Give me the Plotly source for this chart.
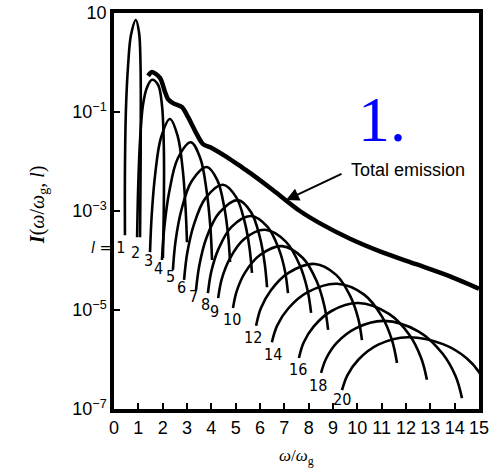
import plotly.graph_objects as go

# ---- data: x = omega/omega_g, values given as log10(I) ----
l1_x = [0.45, 0.45, 0.49, 0.58, 0.70, 0.90, 1.03, 1.09, 1.10, 1.09, 1.07]
l1_I = [10**v for v in (-3.49, -2.17, -0.96, -0.05, 0.56, 0.86, 0.60, -0.05, -1.16, -2.37, -3.53)]
l2_x = [0.95, 0.99, 1.07, 1.19, 1.36, 1.56, 1.81, 1.97, 2.05, 2.05, 2.01]
l2_I = [10**v for v in (-3.53, -2.58, -1.57, -0.86, -0.50, -0.35, -0.45, -0.86, -1.77, -2.78, -3.95)]
l3_x = [1.48, 1.55, 1.69, 1.93, 2.30, 2.62, 2.83, 2.94, 3.00]
l3_I = [10**v for v in (-3.83, -3.08, -2.27, -1.52, -1.14, -1.49, -2.19, -2.93, -3.63)]
l4_x = [1.97, 2.07, 2.27, 2.62, 3.16, 3.55, 3.81, 3.96, 4.03]
l4_I = [10**v for v in (-3.99, -3.32, -2.61, -1.94, -1.61, -1.94, -2.61, -3.32, -3.99)]
l5_x = [2.42, 2.53, 2.77, 3.19, 3.82, 4.25, 4.53, 4.69, 4.77]
l5_I = [10**v for v in (-4.19, -3.61, -2.98, -2.40, -2.11, -2.38, -2.92, -3.49, -4.03)]
l6_x = [2.88, 3.01, 3.28, 3.76, 4.48, 5.02, 5.37, 5.57, 5.67]
l6_I = [10**v for v in (-4.39, -3.85, -3.28, -2.74, -2.47, -2.72, -3.22, -3.75, -4.25)]
l7_x = [3.37, 3.51, 3.80, 4.32, 5.10, 5.64, 5.99, 6.19, 6.29]
l7_I = [10**v for v in (-4.60, -4.09, -3.54, -3.04, -2.78, -3.03, -3.52, -4.05, -4.54)]
l8_x = [3.86, 4.00, 4.30, 4.83, 5.63, 6.31, 6.77, 7.03, 7.15]
l8_I = [10**v for v in (-4.66, -4.22, -3.76, -3.32, -3.10, -3.32, -3.76, -4.22, -4.66)]
l9_x = [4.28, 4.43, 4.76, 5.34, 6.21, 7.06, 7.63, 7.95, 8.10]
l9_I = [10**v for v in (-4.76, -4.37, -3.96, -3.57, -3.38, -3.62, -4.09, -4.59, -5.06)]
l10_x = [4.89, 5.05, 5.39, 6.00, 6.90, 7.76, 8.33, 8.65, 8.80]
l10_I = [10**v for v in (-4.96, -4.61, -4.24, -3.89, -3.71, -3.95, -4.42, -4.93, -5.40)]
l12_x = [5.84, 6.03, 6.45, 7.17, 8.26, 9.13, 9.71, 10.04, 10.19]
l12_I = [10**v for v in (-5.32, -4.97, -4.60, -4.25, -4.07, -4.29, -4.72, -5.18, -5.61)]
l14_x = [6.49, 6.70, 7.16, 7.96, 9.17, 10.28, 11.02, 11.43, 11.63]
l14_I = [10**v for v in (-5.65, -5.32, -4.97, -4.64, -4.47, -4.69, -5.14, -5.62, -6.07)]
l16_x = [7.60, 7.79, 8.21, 8.94, 10.03, 11.30, 12.15, 12.63, 12.86]
l16_I = [10**v for v in (-5.97, -5.66, -5.33, -5.02, -4.86, -5.08, -5.51, -5.98, -6.41)]
l18_x = [8.51, 8.72, 9.16, 9.93, 11.10, 12.54, 13.50, 14.04, 14.30]
l18_I = [10**v for v in (-6.27, -5.98, -5.66, -5.37, -5.22, -5.44, -5.88, -6.34, -6.78)]
l20_x = [9.37, 9.59, 10.05, 10.86, 12.08, 13.52, 14.48, 15.02, 15.28]
l20_I = [10**v for v in (-6.62, -6.32, -6.00, -5.70, -5.55, -5.69, -5.97, -6.27, -6.55)]

total_x = [1.40, 1.56, 1.89, 2.10, 2.22, 2.42, 2.79, 3.04, 3.33, 3.66, 4.03, 4.64,
           5.18, 5.59, 6.54, 7.64, 8.47, 9.70, 11.06, 12.45, 13.81, 15.0]
total_I = [10**v for v in (-0.27, -0.19, -0.31, -0.60, -0.74, -0.82, -0.90, -1.10, -1.38,
                           -1.65, -1.73, -1.91, -2.09, -2.23, -2.58, -3.00, -3.25, -3.56,
                           -3.84, -4.08, -4.32, -4.57)]

x_ticks = list(range(0, 16))
y_tick_vals = [10, 1e-1, 1e-3, 1e-5, 1e-7]
y_tick_text = ["10", "10<sup>\u22121</sup>", "10<sup>\u22123</sup>",
               "10<sup>\u22125</sup>", "10<sup>\u22127</sup>"]

harmonic_names = ["1", "2", "3", "4", "5", "6", "7", "8", "9", "10", "12", "14", "16", "18", "20"]
# label positions (x, log10 I) for the harmonic numbers
label_pos = [(0.53, -3.73), (0.90, -3.83), (1.40, -4.01), (1.81, -4.17), (2.34, -4.33),
             (2.79, -4.54), (3.25, -4.72), (3.78, -4.88), (4.15, -5.04), (4.85, -5.20),
             (5.71, -5.55), (6.53, -5.89), (7.56, -6.21), (8.39, -6.52), (9.37, -6.80)]

curves = [(l1_x, l1_I), (l2_x, l2_I), (l3_x, l3_I), (l4_x, l4_I), (l5_x, l5_I),
          (l6_x, l6_I), (l7_x, l7_I), (l8_x, l8_I), (l9_x, l9_I), (l10_x, l10_I),
          (l12_x, l12_I), (l14_x, l14_I), (l16_x, l16_I), (l18_x, l18_I), (l20_x, l20_I)]

fig = go.Figure()
for name, (xs, ys) in zip(harmonic_names, curves):
    fig.add_trace(go.Scatter(x=xs, y=ys, mode="lines", name="l=" + name,
                             line=dict(color="black", width=2.6, shape="spline", smoothing=1.0),
                             showlegend=False, hoverinfo="skip"))
fig.add_trace(go.Scatter(x=total_x, y=total_I, mode="lines", name="Total emission",
                         line=dict(color="black", width=4.5, shape="spline", smoothing=0.8),
                         showlegend=False, hoverinfo="skip"))

label_font = dict(family="Liberation Sans Narrow, DejaVu Sans Condensed, Liberation Sans, Arial",
                  size=16, color="black")
annotations = []
for name, (lx, ly) in zip(harmonic_names, label_pos):
    txt = "<i>l</i> = 1" if name == "1" else name
    annotations.append(dict(x=lx, y=ly, xref="x", yref="y", text=txt, showarrow=False,
                            font=label_font, xanchor="right" if name == "1" else "center",
                            yanchor="middle"))

annotations += [
    dict(x=12.08, y=-2.17, xref="x", yref="y", text="Total emission", showarrow=False,
         font=dict(family="Liberation Sans, Arial", size=18, color="black")),
    dict(x=7.07, y=-2.78, xref="x", yref="y", text="", showarrow=True,
         ax=57, ay=-27, axref="pixel", ayref="pixel", arrowhead=2, arrowsize=1.3,
         arrowwidth=2, arrowcolor="black"),
    dict(x=11.0, y=-1.15, xref="x", yref="y", text="1.", showarrow=False,
         font=dict(family="Liberation Serif, Times New Roman", size=64, color="#0000ff")),
    dict(x=-0.208, y=0.515, xref="paper", yref="paper", textangle=-90,
         xanchor="center", yanchor="middle",
         text="<b><i>I</i></b>(<i>\u03c9</i>/<i>\u03c9</i><sub>g</sub>, <i>l</i>)", showarrow=False,
         font=dict(family="Liberation Serif, Times New Roman", size=20, color="black")),
    dict(x=0.501, y=-0.121, xref="paper", yref="paper", xanchor="center", yanchor="middle",
         text="<i>\u03c9</i>/<i>\u03c9</i><sub>g</sub>", showarrow=False,
         font=dict(family="Liberation Serif, Times New Roman", size=17, color="black")),
]

axis_font = dict(family="Liberation Sans, Arial", size=18, color="black")
fig.update_layout(
    width=491, height=469,
    margin=dict(l=114, r=12, t=13, b=60, autoexpand=False),
    paper_bgcolor="white", plot_bgcolor="white",
    annotations=annotations,
    xaxis=dict(range=[0, 15], tickvals=x_ticks, ticktext=[str(t) for t in x_ticks],
               ticks="inside", ticklen=6, tickwidth=2, tickcolor="black",
               showline=True, linewidth=3.5, linecolor="black", mirror=True,
               showgrid=False, zeroline=False, tickfont=axis_font, automargin=False),
    yaxis=dict(type="log", range=[-7, 1], tickvals=y_tick_vals, ticktext=y_tick_text,
               ticks="inside", ticklen=6, tickwidth=2, tickcolor="black",
               showline=True, linewidth=3.5, linecolor="black", mirror=True,
               showgrid=False, zeroline=False, tickfont=axis_font, automargin=False),
)

fig.write_html("out.html", config={"displayModeBar": False},
               post_script="document.body.style.margin='0';document.body.style.overflow='hidden';")
